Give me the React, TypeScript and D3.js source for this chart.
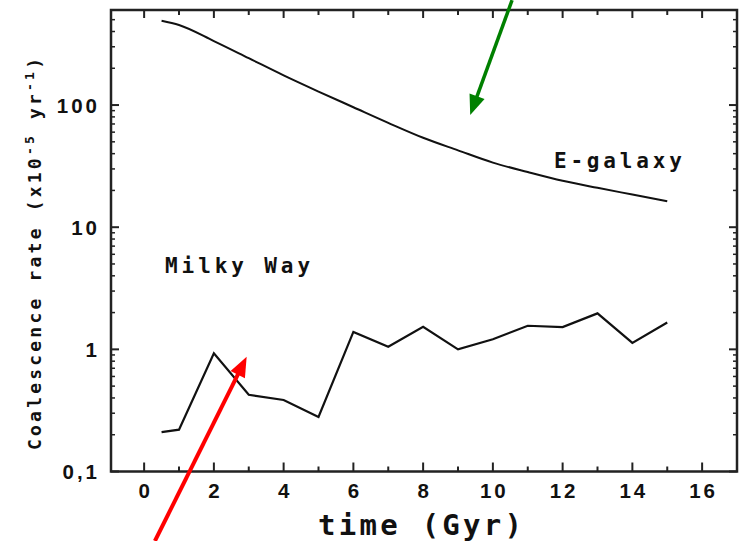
import React from 'react';
import * as d3 from 'd3';

// time (Gyr) and coalescence rate (x10^-5 yr^-1)
const MW_TIME = [0.5, 1, 2, 3, 4, 5, 6, 7, 8, 9, 10, 11, 12, 13, 14, 15];
const MW_RATE = [0.21, 0.22, 0.93, 0.425, 0.385, 0.28, 1.39, 1.05, 1.53, 1.0, 1.21, 1.56, 1.52, 1.97, 1.13, 1.66];

const EG_TIME = [0.5, 1, 2, 3, 4, 5, 6, 7, 8, 9, 10, 11, 12, 13, 14, 15];
const EG_RATE = [490, 452, 334, 242, 175, 129, 96, 71.5, 54, 42.6, 33.8, 28.3, 24, 21, 18.5, 16.3];

const X_TICKS = [0, 2, 4, 6, 8, 10, 12, 14, 16];
const Y_TICKS = [0.1, 1, 10, 100];
const Y_TICK_LABELS = ['0,1', '1', '10', '100'];

// annotations: [x, y] in data units
const LABELS = [
  { text: 'Milky Way', t: 0.6, v: 4.2, width: 145 },
  { text: 'E-galaxy', t: 11.75, v: 30.5, width: 128 },
];
const ARROWS = [
  { color: '#ff0000', from: [0.31, 0.027], to: [2.94, 0.87], w: 4 },
  { color: '#008000', from: [10.55, 722], to: [9.35, 82.8], w: 3.5 },
];

const W = 740;
const H = 541;

export default function App() {
  const x = d3.scaleLinear().domain([-0.95, 17.0]).range([111, 737]);
  const y = d3.scaleLog().domain([0.1, 600]).range([471.5, 10]);
  const [x0, x1] = x.range();
  const [y0, y1] = y.range();

  const mwLine = d3.line<number>()
    .x((_, i) => x(MW_TIME[i]))
    .y(d => y(d));
  const egLine = d3.line<number>()
    .x((_, i) => x(EG_TIME[i]))
    .y(d => y(d))
    .curve(d3.curveMonotoneX);

  const xMinor = d3.range(0, 17, 1).filter(v => v % 2 !== 0);
  const yMinor: number[] = [];
  [0.1, 1, 10, 100].forEach(dec => {
    for (let k = 2; k <= 9; k++) if (dec * k <= 600) yMinor.push(dec * k);
  });

  const tickFont = { fontFamily: '"Liberation Sans", Arial, sans-serif', fontWeight: 700, fontSize: 20.5, letterSpacing: 3 };
  const monoFont = { fontFamily: '"DejaVu Sans Mono", monospace', fontWeight: 700 };

  function arrowHead(tip: number[], tail: number[], len: number, half: number) {
    const dx = tip[0] - tail[0];
    const dy = tip[1] - tail[1];
    const L = Math.hypot(dx, dy);
    const ux = dx / L, uy = dy / L;
    const bx = tip[0] - ux * len, by = tip[1] - uy * len;
    return `${tip[0]},${tip[1]} ${bx - uy * half},${by + ux * half} ${bx + uy * half},${by - ux * half}`;
  }

  return (
    <svg width={W} height={H} style={{ position: 'absolute', left: 0, top: 0, background: '#fff' }}>
      {/* frame */}
      <rect x={x0} y={y1} width={x1 - x0} height={y0 - y1} fill="none" stroke="#222" strokeWidth={2.5} />

      {/* x ticks, bottom and top */}
      {X_TICKS.map(t => (
        <g key={'xt' + t}>
          <line x1={x(t)} x2={x(t)} y1={y0} y2={y0 - 9} stroke="#222" strokeWidth={2} />
          <line x1={x(t)} x2={x(t)} y1={y1} y2={y1 + 8} stroke="#222" strokeWidth={2} />
          <text x={x(t) + 1.5} y={498} textAnchor="middle" style={tickFont} fill="#111">{t}</text>
        </g>
      ))}
      {xMinor.map(t => (
        <g key={'xm' + t}>
          <line x1={x(t)} x2={x(t)} y1={y0} y2={y0 - 5} stroke="#222" strokeWidth={2} />
          <line x1={x(t)} x2={x(t)} y1={y1} y2={y1 + 5} stroke="#222" strokeWidth={2} />
        </g>
      ))}

      {/* y ticks, left and right */}
      {Y_TICKS.map((v, i) => (
        <g key={'yt' + v}>
          <line x1={x0} x2={x0 + 8} y1={y(v)} y2={y(v)} stroke="#222" strokeWidth={2} />
          <line x1={x1} x2={x1 - 8} y1={y(v)} y2={y(v)} stroke="#222" strokeWidth={2} />
          <text x={100} y={y(v) + 7.5} textAnchor="end" style={tickFont} fill="#111">{Y_TICK_LABELS[i]}</text>
        </g>
      ))}
      {yMinor.map(v => (
        <g key={'ym' + v}>
          <line x1={x0} x2={x0 + 4} y1={y(v)} y2={y(v)} stroke="#222" strokeWidth={1.5} />
          <line x1={x1} x2={x1 - 4} y1={y(v)} y2={y(v)} stroke="#222" strokeWidth={1.5} />
        </g>
      ))}

      {/* series */}
      <path d={egLine(EG_RATE) || ''} fill="none" stroke="#111" strokeWidth={2} />
      <path d={mwLine(MW_RATE) || ''} fill="none" stroke="#111" strokeWidth={2.2} strokeLinejoin="miter" />

      {/* labels */}
      {LABELS.map(l => (
        <text key={l.text} x={x(l.t)} y={y(l.v)} style={{ ...monoFont, fontSize: 21 }} fill="#111"
          textLength={l.width} lengthAdjust="spacing">{l.text}</text>
      ))}

      {/* axis titles */}
      <text x={318} y={535} style={{ ...monoFont, fontSize: 29 }} fill="#111" textLength={204} lengthAdjust="spacing">
        time (Gyr)
      </text>
      <text transform="translate(41,254) rotate(-90)" textAnchor="middle" style={{ ...monoFont, fontSize: 18 }} fill="#111"
        textLength={392} lengthAdjust="spacing">
        Coalescence rate (x10<tspan dy={-7} fontSize={13}>-5</tspan><tspan dy={7}> yr</tspan><tspan dy={-7} fontSize={13}>-1</tspan><tspan dy={7}>)</tspan>
      </text>

      {/* arrows */}
      {ARROWS.map(a => {
        const tail = [x(a.from[0]), y(a.from[1])];
        const tip = [x(a.to[0]), y(a.to[1])];
        const dx = tip[0] - tail[0], dy = tip[1] - tail[1];
        const L = Math.hypot(dx, dy);
        const end = [tip[0] - dx / L * 14, tip[1] - dy / L * 14];
        return (
          <g key={a.color}>
            <line x1={tail[0]} y1={tail[1]} x2={end[0]} y2={end[1]} stroke={a.color} strokeWidth={a.w} />
            <polygon points={arrowHead(tip, tail, 20, 8)} fill={a.color} />
          </g>
        );
      })}
    </svg>
  );
}
